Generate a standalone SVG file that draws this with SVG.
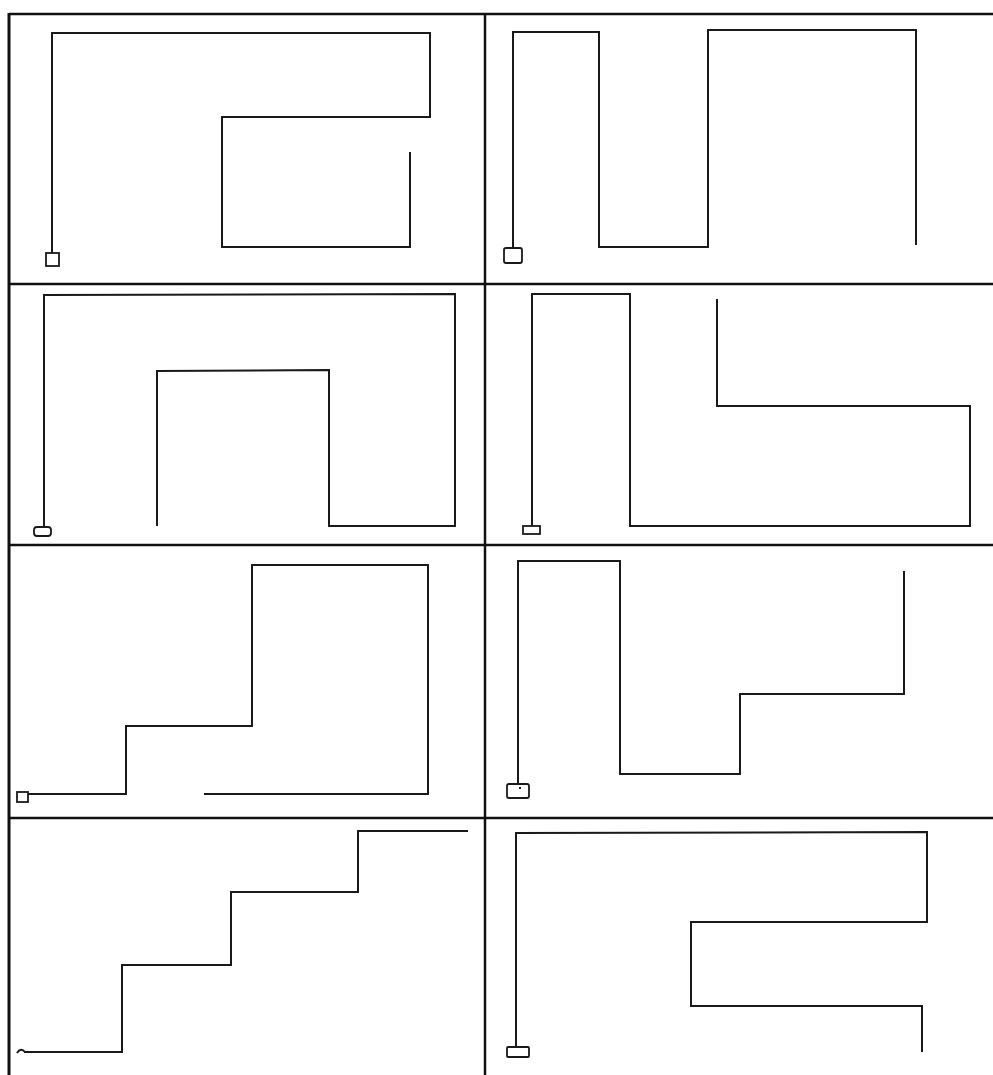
<svg xmlns="http://www.w3.org/2000/svg" width="993" height="1075" viewBox="0 0 993 1075">
<style>
.grid{stroke:#111;stroke-width:2.5;fill:none}
.wire{stroke:#1a1a1a;stroke-width:2;fill:none;stroke-linejoin:miter;stroke-linecap:butt}
.box{stroke:#1a1a1a;stroke-width:1.8;fill:#fff}
</style>
<rect width="993" height="1075" fill="#fff"/>
<g id="grid">
<line class="grid" x1="9" y1="14" x2="993" y2="14"/>
<line class="grid" x1="9" y1="13" x2="9" y2="1075" style="stroke-width:3"/>
<line class="grid" x1="485" y1="13" x2="485" y2="1075"/>
<line class="grid" x1="9" y1="284" x2="993" y2="284"/>
<line class="grid" x1="9" y1="545" x2="993" y2="545"/>
<line class="grid" x1="9" y1="818" x2="993" y2="818"/>
</g>
<g id="panel1">
<polyline class="wire" points="52,253 52,33 430,33 430,117 222,117 222,247 410,247 410,152"/>
<rect class="box" x="46" y="253" width="13" height="13"/>
</g>
<g id="panel2">
<polyline class="wire" points="513,248 513,32 599,32 599,247 708,247 708,30 916,30 916,245"/>
<rect class="box" x="504" y="248" width="18" height="15" rx="2"/>
</g>
<g id="panel3">
<polyline class="wire" points="44,527 44,295 455,294 455,526 329,526 329,370 157,371 157,526"/>
<rect class="box" x="34" y="527" width="17" height="9" rx="3"/>
</g>
<g id="panel4">
<polyline class="wire" points="532,526 532,294 630,294 630,526 970,526 970,406 717,406 717,299"/>
<rect class="box" x="523" y="526" width="17" height="8"/>
</g>
<g id="panel5">
<polyline class="wire" points="28,794 126,794 126,726 252,726 252,565 428,565 428,794 204,794"/>
<rect class="box" x="17" y="792" width="11" height="10"/>
</g>
<g id="panel6">
<polyline class="wire" points="518,784 518,561 620,561 620,774 740,774 740,694 904,694 904,571"/>
<rect class="box" x="507" y="784" width="22" height="14" rx="2"/>
<rect x="519" y="787" width="2" height="2" fill="#1a1a1a"/>
</g>
<g id="panel7">
<polyline class="wire" points="24,1052 122,1052 122,965 231,965 231,892 358,892 358,831 468,831"/>
<path class="wire" d="M17,1053 Q21,1047 25,1052"/>
</g>
<g id="panel8">
<polyline class="wire" points="516,1047 516,833 927,832 927,922 691,922 691,1006 922,1006 922,1052"/>
<rect class="box" x="507" y="1047" width="22" height="10" rx="1"/>
</g>
</svg>
